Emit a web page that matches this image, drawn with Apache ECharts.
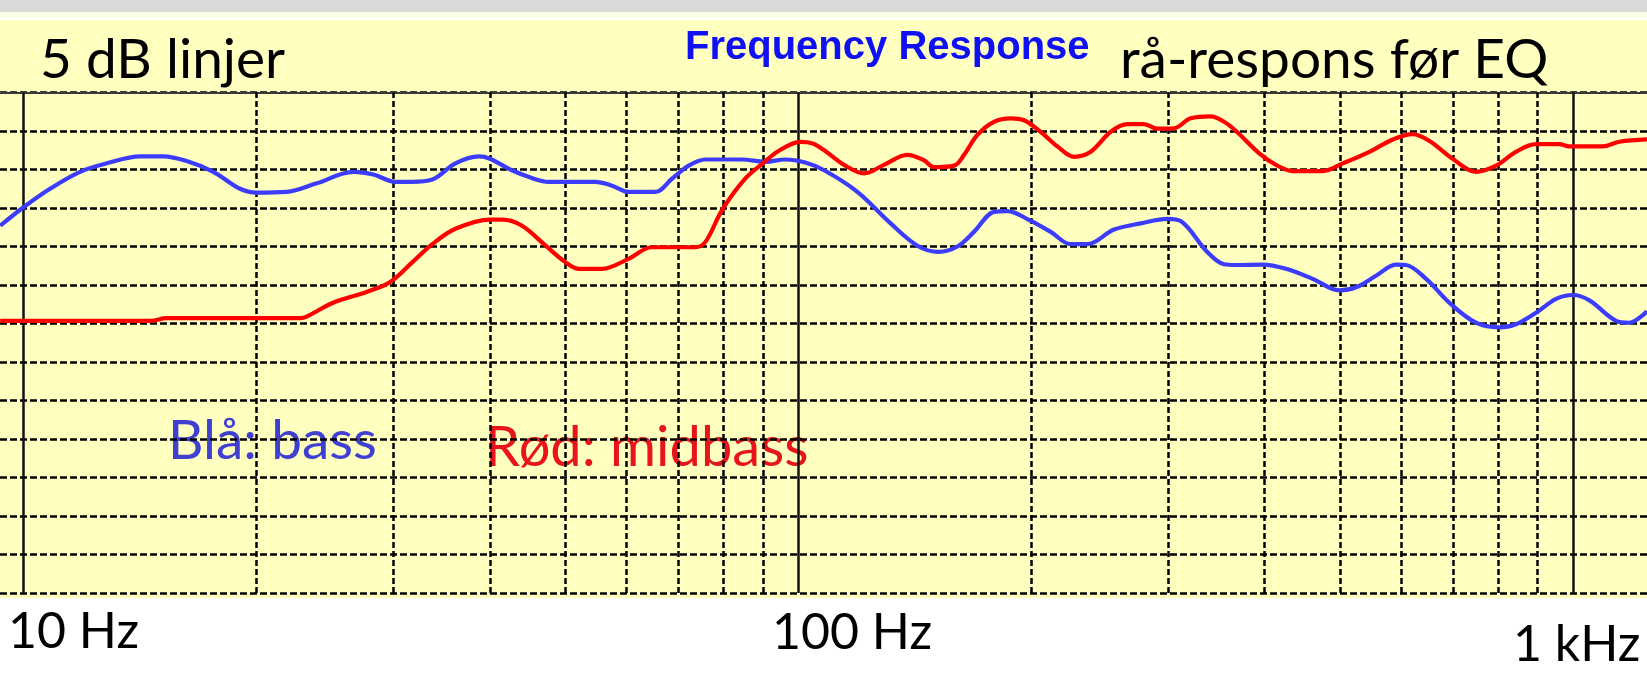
<!DOCTYPE html>
<html><head><meta charset="utf-8">
<script src="https://cdn.jsdelivr.net/npm/echarts@6/dist/echarts.min.js"></script>
<style>
html,body{margin:0;padding:0;background:#fff;overflow:hidden;}
#c{width:1647px;height:677px;background:linear-gradient(to bottom,#d9d9d9 0,#d9d9d9 12px,#fbfbe6 12px,#fbfbe6 18px,#ffffff 18px,#ffffff 20px,#ffffc0 20px,#ffffc0 598px,#ffffff 598px);}
</style></head><body><div id="c"></div>
<script>
// ---- data (frequency in Hz, level in dB) ----
const blueFreq = [9.33,10,10.82,11.83,12.81,14.14,15.15,16.24,17.58,19.03,20,21.86,23.9,26.65,28.29,30.2,31.72,33.7,36.1,38.7,40,42.7,45.3,47.6,54.7,57.5,60.4,65.4,68.7,72.2,75.9,84.6,90.7,96.2,102.1,108,119.2,131.6,142.5,151.7,160.5,168.6,178.9,186.1,199,211.8,224.7,236.1,255.6,276.7,299.5,311.6,337.3,354.4,367.3,397.6,426.1,461.3,499.4,524.8,556.8,590.8,608.6,646.3,692.4,749.5,803.5,844,896,951,1000,1050,1136.5,1182,1246];
const blueDb   = [82.7,85.1,87.5,89.7,90.8,91.7,91.7,91.1,89.7,87.5,87.0,87.1,88.2,89.7,89.35,88.4,88.4,88.7,90.8,91.7,91.4,89.9,88.9,88.4,88.4,87.9,87.1,87.1,88.8,90.5,91.3,91.3,91.0,91.3,90.9,89.9,87.1,83.0,80.1,79.3,80.0,81.9,84.5,84.6,83.4,81.9,80.3,80.3,82.2,83.0,83.6,83.3,79.3,77.7,77.6,77.65,77.1,75.8,74.3,74.7,76.2,77.65,77.6,75.8,72.7,70.1,69.5,69.9,71.4,73.2,73.7,73.0,70.35,70.1,71.6];
const redFreq  = [9.33,14.6,15.3,22.75,23.2,25.1,27.73,29.7,31.72,33.7,36.1,40,41.5,44.0,47.2,50,52.1,55.8,60.4,64.7,68.7,73.6,75.9,79.7,85.4,90,94.3,100.6,104.2,108,114.6,121.6,129.0,138.3,145.3,149.7,158.9,163.7,170.3,178.9,188,195.6,205.5,216,227,238.5,253.1,265.9,279.4,290.7,305.5,321,340.7,354.4,367.3,393.6,413.7,434.7,475.3,504.5,546,585.3,621.1,652.7,699.3,749.5,795.4,844,896,960,989,1092,1148,1246];
const redDb    = [70.35,70.35,70.7,70.7,70.9,72.7,74.1,75.35,77.9,80.3,82.3,83.5,83.5,82.7,80.1,78.0,77.1,77.1,78.4,79.9,79.9,79.9,80.6,84.7,88.8,90.8,92.4,93.6,93.4,92.5,90.6,89.5,90.6,91.9,91.2,90.3,90.5,91.9,94.5,96.2,96.65,96.4,94.9,93.0,91.65,92.3,94.9,95.9,95.9,95.3,95.35,96.65,96.9,96.2,95.0,92.1,90.6,89.8,89.8,90.8,92.3,93.9,94.6,93.7,91.4,89.7,90.5,92.3,93.3,93.3,93.0,93.0,93.6,93.9];
const minorFreqs = [20,30,40,50,60,70,80,90,200,300,400,500,600,700,800,900];
const majorFreqs = [10,100,1000];
const tickLabels = ['10 Hz','100 Hz','1 kHz'];
const xMin = 9.325, xMax = 1246;
const yMin = 35, yMax = 100, yStep = 5;

const chart = echarts.init(document.getElementById('c'), null, {renderer:'canvas'});
const pairs = (fs, ds) => fs.map((f, i) => [f, ds[i]]);
const txt = (x, y, s, font, fill) => ({type:'text', x, y, style:{text:s, font, fill, textVerticalAlign:'middle', verticalAlign:'middle'}});
const lato = s => 'normal ' + s + 'px Lato';

chart.setOption({
  animation:false,
  backgroundColor:'transparent',
  grid:{left:0, right:0, top:92.5, bottom:84, containLabel:false},
  xAxis:{type:'log', logBase:10, min:xMin, max:xMax, position:'top',
    axisLine:{show:true, lineStyle:{color:'#3a3a3a', width:2}},
    axisTick:{show:false}, axisLabel:{show:false}, splitLine:{show:false}},
  yAxis:{type:'value', min:yMin, max:yMax, interval:yStep,
    axisLine:{show:false}, axisTick:{show:false}, axisLabel:{show:false},
    splitLine:{show:true, lineStyle:{color:'#000000', width:2.5, type:[7,3]}}},
  series:[
    {type:'line', name:'grid', data:[], z:1, silent:true,
      markLine:{silent:true, z:1, symbol:['none','none'], label:{show:false}, animation:false,
        data: minorFreqs.map(f => ({xAxis:f, lineStyle:{color:'#000000', width:2.5, type:[6,3]}}))
          .concat(majorFreqs.map(f => ({xAxis:f, lineStyle:{color:'#111111', width:2.5, type:'solid'}})))}},
    {type:'line', name:'Blå: bass', data:pairs(blueFreq, blueDb), z:3, showSymbol:false, smooth:0.35,
      lineStyle:{color:'#3c3cff', width:4.2}},
    {type:'line', name:'Rød: midbass', data:pairs(redFreq, redDb), z:4, showSymbol:false, smooth:0.35,
      lineStyle:{color:'#ff0000', width:4.2}}
  ],
  graphic:[
    txt(40, 60, '5 dB linjer', lato(55), '#000'),
    txt(685, 48, 'Frequency Response', 'bold 40px "Liberation Sans"', '#1010f5'),
    txt(1120, 60, 'rå-respons før EQ', lato(55), '#000'),
    txt(168, 441, 'Blå: bass', lato(55), '#4040d0'),
    txt(485, 448, 'Rød: midbass', lato(56), '#e8141c'),
    txt(8, 632, tickLabels[0], lato(50), '#000'),
    txt(772, 633, tickLabels[1], lato(50), '#000'),
    txt(1513, 645, tickLabels[2], lato(50), '#000')
  ]
});
</script></body></html>
